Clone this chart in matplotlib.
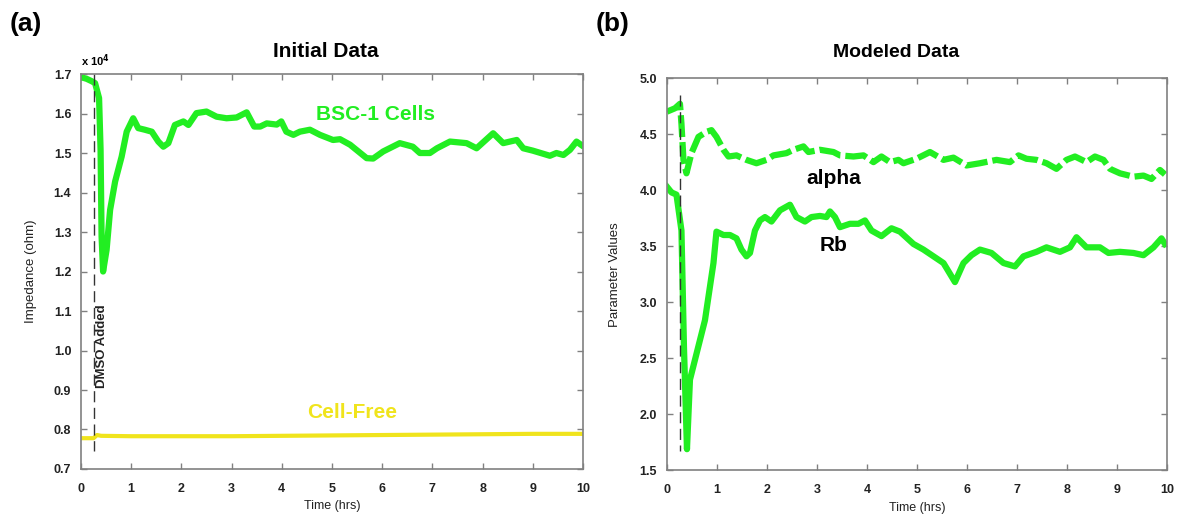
import matplotlib
matplotlib.use("Agg")
import matplotlib.pyplot as plt
import numpy as np

plt.rcParams['font.family'] = ['Liberation Sans', 'DejaVu Sans']
plt.rcParams['font.weight'] = 'bold'

# --- panel (a): impedance, units of 1e4 ohm ---
bsc_t = [0.0, 0.11, 0.21, 0.28, 0.36, 0.39, 0.41, 0.44, 0.51, 0.58, 0.68, 0.81, 0.91,
         1.04, 1.14, 1.27, 1.41, 1.54, 1.64, 1.74, 1.87, 2.04, 2.14, 2.30, 2.50, 2.70,
         2.90, 3.10, 3.30, 3.45, 3.57, 3.70, 3.90, 3.99, 4.09, 4.23, 4.36, 4.56, 4.76,
         5.02, 5.16, 5.36, 5.69, 5.82, 6.02, 6.35, 6.61, 6.75, 6.95, 7.09, 7.35, 7.68,
         7.88, 8.21, 8.41, 8.68, 8.81, 9.00, 9.34, 9.47, 9.61, 9.74, 9.87, 9.97]
bsc_z = [1.692, 1.688, 1.682, 1.677, 1.639, 1.508, 1.289, 1.200, 1.255, 1.356, 1.428,
         1.491, 1.554, 1.588, 1.563, 1.559, 1.554, 1.529, 1.516, 1.525, 1.571, 1.580,
         1.571, 1.601, 1.605, 1.592, 1.588, 1.590, 1.603, 1.567, 1.567, 1.575, 1.572,
         1.580, 1.554, 1.546, 1.554, 1.559, 1.546, 1.533, 1.535, 1.521, 1.487, 1.486,
         1.504, 1.525, 1.516, 1.500, 1.500, 1.512, 1.529, 1.525, 1.512, 1.550, 1.525,
         1.533, 1.512, 1.506, 1.493, 1.500, 1.495, 1.508, 1.529, 1.520]

free_t = [0.0, 0.25, 0.32, 0.4, 1, 2, 3, 4, 5, 6, 7, 8, 9, 10]
free_z = [0.778, 0.778, 0.786, 0.784, 0.783, 0.783, 0.783, 0.784, 0.785, 0.786,
          0.787, 0.788, 0.789, 0.789]

# --- panel (b): modeled parameters ---
alpha_t = [0.0, 0.16, 0.26, 0.29, 0.33, 0.39, 0.49, 0.63, 0.79, 0.89, 0.99, 1.13, 1.23,
           1.39, 1.59, 1.79, 1.99, 2.13, 2.39, 2.53, 2.73, 2.83, 3.06, 3.33, 3.46, 3.73,
           3.93, 4.13, 4.29, 4.46, 4.63, 4.73, 4.99, 5.26, 5.53, 5.73, 5.99, 6.26, 6.59,
           6.86, 7.03, 7.19, 7.39, 7.59, 7.79, 7.99, 8.16, 8.39, 8.56, 8.73, 8.86, 9.06,
           9.33, 9.53, 9.69, 9.86, 9.96]
alpha_v = [4.70, 4.73, 4.77, 4.59, 4.27, 4.15, 4.33, 4.475, 4.52, 4.535, 4.475, 4.36,
           4.30, 4.31, 4.27, 4.24, 4.27, 4.31, 4.33, 4.36, 4.39, 4.34, 4.36, 4.34, 4.31,
           4.30, 4.31, 4.25, 4.30, 4.25, 4.27, 4.24, 4.28, 4.34, 4.27, 4.29, 4.22, 4.24,
           4.27, 4.25, 4.31, 4.28, 4.27, 4.24, 4.19, 4.27, 4.30, 4.25, 4.30, 4.27, 4.19,
           4.15, 4.12, 4.13, 4.10, 4.18, 4.14]

rb_t = [0.0, 0.09, 0.19, 0.29, 0.34, 0.40, 0.46, 0.76, 0.93, 0.99, 1.13, 1.26, 1.39,
        1.49, 1.59, 1.66, 1.76, 1.86, 1.96, 2.09, 2.26, 2.46, 2.59, 2.76, 2.89, 3.06,
        3.19, 3.26, 3.36, 3.46, 3.66, 3.83, 3.96, 4.09, 4.29, 4.49, 4.66, 4.93, 5.13,
        5.33, 5.53, 5.76, 5.93, 6.09, 6.26, 6.49, 6.73, 6.96, 7.13, 7.39, 7.59, 7.86,
        8.06, 8.19, 8.39, 8.66, 8.83, 9.06, 9.33, 9.53, 9.73, 9.89, 9.96]
rb_v = [4.03, 3.98, 3.96, 3.64, 2.60, 1.69, 2.31, 2.84, 3.35, 3.63, 3.60, 3.60, 3.57,
        3.47, 3.41, 3.44, 3.64, 3.73, 3.76, 3.72, 3.82, 3.87, 3.76, 3.72, 3.76, 3.77,
        3.76, 3.81, 3.76, 3.67, 3.70, 3.70, 3.73, 3.64, 3.59, 3.66, 3.63, 3.52, 3.47,
        3.41, 3.35, 3.18, 3.35, 3.42, 3.47, 3.44, 3.35, 3.32, 3.41, 3.45, 3.49, 3.45,
        3.49, 3.58, 3.49, 3.49, 3.44, 3.45, 3.44, 3.42, 3.49, 3.57, 3.52]

dmso_t = 0.26

green = '#22ee22'
yellow = '#f0e41c'
spine_c = '#808080'

fig = plt.figure(figsize=(11.79, 5.18), dpi=100)
ax1 = fig.add_axes([0.0687, 0.0946, 0.4258, 0.7625])
ax2 = fig.add_axes([0.5657, 0.0917, 0.4241, 0.7577])

def style(ax, ylim, yticks, ylabel):
    ax.set_xlim(0, 10)
    ax.set_ylim(*ylim)
    ax.set_xticks(range(11))
    ax.set_yticks(yticks)
    ax.set_yticklabels(['%.1f' % v for v in yticks])
    ax.tick_params(direction='in', length=4, width=1, color=spine_c,
                   top=True, right=True, labelsize=9, labelcolor='#222222')
    ax.tick_params(axis='x', pad=10)
    ax.tick_params(axis='y', pad=7)
    for s in ax.spines.values():
        s.set_color(spine_c)
        s.set_linewidth(1.2)
    ax.set_xlabel('Time (hrs)', fontsize=9, labelpad=4, color='#222222')
    ax.set_ylabel(ylabel, fontsize=9.5, color='#222222')

# panel a
ax1.plot(free_t, free_z, color=yellow, lw=3)
ax1.plot(bsc_t, bsc_z, color=green, lw=4.5, solid_joinstyle='round')
ax1.plot([0.25, 0.25], [1.7, 0.745], color='#333333', lw=1, dashes=(8, 4))
style(ax1, (0.7, 1.7), np.round(np.arange(0.7, 1.71, 0.1), 1), 'Impedance (ohm)')
ax1.yaxis.set_label_coords(-0.088, 0.5)
ax1.text(5.86, 1.597, 'BSC-1 Cells', color=green, fontsize=15, ha='center', va='center')
ax1.text(5.4, 0.844, 'Cell-Free', color=yellow, fontsize=15, ha='center', va='center')
ax1.text(0.41, 1.01, 'DMSO Added', rotation=90, fontsize=9.5, ha='center', va='center',
         color='#222222')
ax1.text(0.0, 1.012, 'x 10$^4$', transform=ax1.transAxes, fontsize=8, va='bottom')
ax1.text(0.488, 1.058, 'Initial Data', transform=ax1.transAxes, fontsize=15,
         ha='center', va='center')

# panel b
ax2.plot(rb_t, rb_v, color=green, lw=4.5, solid_joinstyle='round')
ax2.plot(alpha_t, alpha_v, color=green, lw=4.5, dashes=(3.5, 0.8))
ax2.plot([dmso_t, dmso_t], [4.85, 1.67], color='#333333', lw=1, dashes=(8, 4))
style(ax2, (1.5, 5.0), np.arange(1.5, 5.01, 0.5), 'Parameter Values')
ax2.yaxis.set_label_coords(-0.092, 0.5)
ax2.text(3.34, 4.107, 'alpha', fontsize=15, ha='center', va='center')
ax2.text(3.34, 3.51, 'Rb', fontsize=15, ha='center', va='center')
ax2.text(0.458, 1.066, 'Modeled Data', transform=ax2.transAxes, fontsize=14,
         ha='center', va='center')

fig.text(26 / 1179, 1 - 24 / 518, '(a)', fontsize=19, ha='center', va='center')
fig.text(613 / 1179, 1 - 24 / 518, '(b)', fontsize=19, ha='center', va='center')

fig.savefig('out.png', dpi=100)
